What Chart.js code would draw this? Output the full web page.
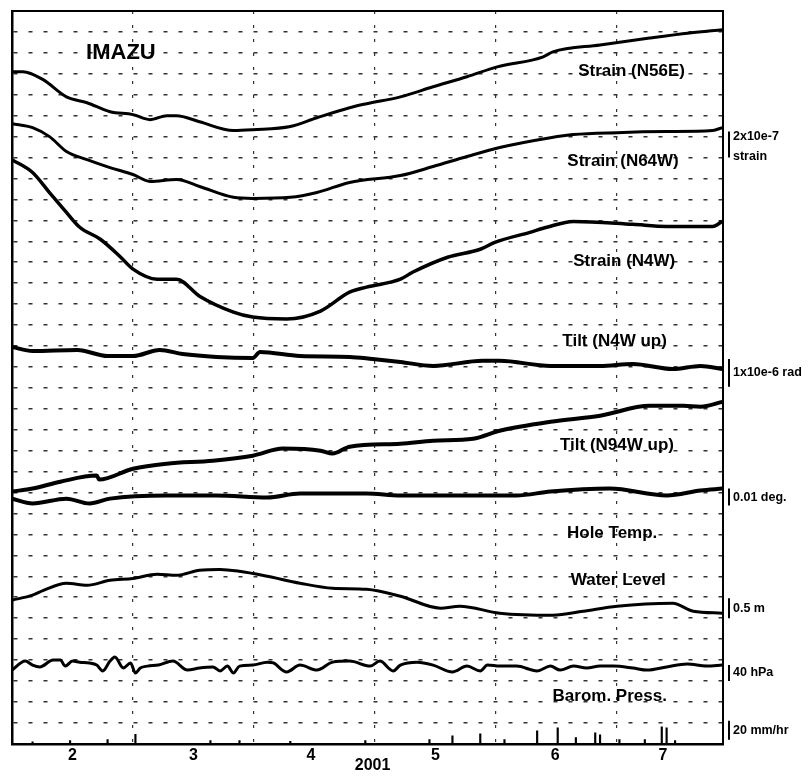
<!DOCTYPE html>
<html lang="en">
<head>
    <meta charset="UTF-8">
    <title>IMAZU</title>
    <script src="https://cdnjs.cloudflare.com/ajax/libs/Chart.js/4.4.1/chart.umd.min.js"></script>
    <style>
        body {
            margin: 0;
            background-color: #fff;
        }
        .wrap {
            width: 810px;
            height: 778px;
        }
    </style>
</head>
<body>
    <div class="wrap">
        <canvas id="chart" width="810" height="778"></canvas>
    </div>

    <script>
        // x in months of 2001 (2.0 = 1 Feb), y in grid divisions (0 = bottom, 35 = top)
        const X_MIN = 2.0;
        const X_MAX = 7.876;
        const Y_DIVS = 35;

        const monthLines = [3, 4, 5, 6, 7];
        const monthLabelPos = [2.5, 3.5, 4.47, 5.5, 6.49, 7.38];
        const monthLabels = ['2', '3', '4', '5', '6', '7'];

        // Strain (N56E)
        const n56eX = [2.00, 2.09, 2.26, 2.45, 2.62, 2.81, 3.00, 3.14, 3.28, 3.36, 3.55, 3.83, 3.99, 4.30, 4.52, 4.79, 4.93, 5.21, 5.48, 5.76, 6.01, 6.39, 6.47, 6.86, 7.27, 7.60, 7.87];
        const n56eY = [32.10, 32.10, 31.71, 30.90, 30.62, 30.19, 30.05, 29.81, 30.00, 30.00, 29.71, 29.29, 29.33, 29.48, 29.90, 30.38, 30.57, 30.90, 31.38, 31.86, 32.33, 32.81, 33.05, 33.38, 33.71, 33.95, 34.10];

        // Strain (N64W)
        const n64wX = [2.00, 2.17, 2.31, 2.45, 2.62, 2.81, 3.00, 3.14, 3.36, 3.55, 3.83, 3.99, 4.30, 4.52, 4.79, 5.21, 5.48, 5.76, 6.03, 6.45, 6.64, 7.00, 7.41, 7.79, 7.87];
        const n64wY = [29.62, 29.43, 29.00, 28.29, 27.90, 27.52, 27.19, 26.86, 26.95, 26.62, 26.10, 26.05, 26.10, 26.33, 26.81, 27.14, 27.57, 28.05, 28.48, 28.95, 29.10, 29.19, 29.24, 29.29, 29.43];

        // Strain (N4W)
        const n4wX = [2.00, 2.17, 2.31, 2.45, 2.56, 2.73, 2.89, 3.00, 3.20, 3.36, 3.55, 3.83, 3.99, 4.27, 4.55, 4.79, 4.93, 5.21, 5.31, 5.60, 5.87, 5.99, 6.28, 6.42, 6.64, 7.13, 7.41, 7.79, 7.87];
        const n4wY = [27.90, 27.29, 26.33, 25.38, 24.67, 24.10, 23.29, 22.67, 22.19, 22.19, 21.38, 20.62, 20.38, 20.29, 20.67, 21.57, 21.81, 22.19, 22.52, 23.24, 23.62, 23.95, 24.43, 24.67, 24.95, 24.81, 24.71, 24.71, 24.95];

        // Tilt (N4W up)
        const tiltAX = [2.00, 2.17, 2.54, 2.79, 3.00, 3.22, 3.41, 3.69, 3.99, 4.05, 4.38, 4.79, 4.98, 5.21, 5.48, 5.89, 6.03, 6.45, 6.86, 7.13, 7.46, 7.69, 7.87];
        const tiltAY = [18.95, 18.76, 18.81, 18.52, 18.52, 18.81, 18.62, 18.48, 18.43, 18.71, 18.52, 18.48, 18.38, 18.24, 18.05, 18.29, 18.29, 18.05, 18.05, 18.14, 17.90, 18.05, 17.90];

        // Tilt (N94W up)
        const tiltBX = [2.00, 2.17, 2.40, 2.70, 2.72, 3.00, 3.28, 3.66, 3.99, 4.24, 4.55, 4.65, 4.79, 5.21, 5.48, 5.81, 6.03, 6.45, 6.86, 7.27, 7.55, 7.69, 7.87];
        const tiltBY = [12.05, 12.19, 12.52, 12.81, 12.62, 13.14, 13.38, 13.52, 13.76, 14.10, 14.00, 13.86, 14.19, 14.33, 14.48, 14.57, 14.95, 15.38, 15.67, 16.14, 16.14, 16.10, 16.33];

        // Hole Temp.
        const tempX = [2.00, 2.17, 2.45, 2.64, 2.81, 3.28, 3.69, 4.11, 4.38, 4.93, 5.21, 5.89, 6.17, 6.45, 6.94, 7.41, 7.69, 7.87];
        const tempY = [11.71, 11.48, 11.71, 11.48, 11.71, 11.86, 11.86, 11.76, 11.95, 11.95, 11.86, 11.86, 11.86, 12.05, 12.19, 11.86, 12.10, 12.19];

        // Water Level
        const waterX = [2.00, 2.17, 2.26, 2.45, 2.62, 2.81, 3.00, 3.20, 3.36, 3.55, 3.72, 3.88, 4.11, 4.38, 4.65, 4.93, 5.21, 5.54, 5.70, 6.03, 6.47, 6.72, 7.00, 7.46, 7.63, 7.87];
        const waterY = [6.86, 7.10, 7.33, 7.67, 7.57, 7.81, 7.90, 8.10, 8.05, 8.29, 8.33, 8.24, 8.00, 7.67, 7.43, 7.38, 7.05, 6.48, 6.57, 6.24, 6.14, 6.33, 6.57, 6.71, 6.33, 6.24];

        // Barom. Press.
        const baroX = [2.00, 2.11, 2.17, 2.23, 2.34, 2.40, 2.44, 2.50, 2.56, 2.64, 2.70, 2.75, 2.81, 2.85, 2.92, 2.98, 3.02, 3.06, 3.12, 3.21, 3.33, 3.45, 3.55, 3.66, 3.72, 3.78, 3.83, 3.88, 3.99, 4.11,
                       4.16, 4.27, 4.38, 4.52, 4.65, 4.79, 4.96, 5.04, 5.15, 5.21, 5.35, 5.48, 5.64, 5.76, 5.87, 5.93, 6.03, 6.17, 6.34, 6.45, 6.53, 6.64, 6.75, 6.86, 6.97, 7.13, 7.25, 7.41, 7.58, 7.74, 7.87];
        const baroY = [3.52, 3.95, 3.76, 3.67, 4.00, 4.00, 3.71, 3.95, 3.90, 3.86, 3.76, 3.48, 3.95, 4.14, 3.62, 3.86, 3.38, 3.62, 3.71, 3.76, 3.95, 3.52, 3.62, 3.67, 3.48, 3.71, 3.38, 3.71, 3.76, 3.90,
                       3.86, 3.43, 3.76, 3.52, 3.90, 3.95, 3.71, 3.95, 3.48, 3.76, 3.90, 3.76, 3.43, 3.71, 3.48, 3.76, 3.71, 3.71, 3.48, 3.71, 3.52, 3.71, 3.62, 3.71, 3.71, 3.62, 3.52, 3.67, 3.81, 3.71, 3.76];

        // Rainfall spikes
        const rainX = [2.17, 2.48, 2.79, 3.02, 3.64, 3.88, 4.30, 4.92, 5.45, 5.64, 5.87, 6.07, 6.34, 6.51, 6.66, 6.82, 6.86, 7.02, 7.23, 7.37, 7.41, 7.48];
        const rainY = [0.10, 0.15, 0.20, 0.45, 0.15, 0.15, 0.12, 0.15, 0.20, 0.38, 0.48, 0.20, 0.62, 0.76, 0.30, 0.52, 0.43, 0.20, 0.20, 0.81, 0.76, 0.15];

        // Trace names (placed next to each trace)
        const traceNames = ['Strain (N56E)', 'Strain (N64W)', 'Strain (N4W)', 'Tilt (N4W up)', 'Tilt (N94W up)', 'Hole Temp.', 'Water Level', 'Barom. Press.'];
        const traceNameX = [7.12, 7.05, 7.06, 6.98, 7.00, 6.96, 7.01, 6.94];
        const traceNameY = [32.1, 27.8, 23.05, 19.24, 14.24, 10.05, 7.81, 2.29];

        // Scale bars on the right (from / to in divisions)
        const scaleLabels = [['2x10e-7', 'strain'], ['1x10e-6 rad'], ['0.01 deg.'], ['0.5 m'], ['40 hPa'], ['20 mm/hr']];
        const scaleFrom = [28.0, 17.05, 11.38, 6.0, 3.0, 0.19];
        const scaleTo = [29.24, 18.38, 12.19, 6.95, 3.76, 1.10];

        function pts(xs, ys) {
            return xs.map((x, i) => ({ x: x, y: ys[i] }));
        }

        function trace(xs, ys, width) {
            return {
                type: 'line',
                data: pts(xs, ys),
                borderColor: '#000',
                borderWidth: width,
                pointRadius: 0,
                cubicInterpolationMode: 'monotone',
                fill: false
            };
        }

        const FONT = '"Liberation Sans", Arial, sans-serif';

        // text, frame and scale bars
        const annotations = {
            id: 'annotations',
            afterDatasetsDraw(chart) {
                const ctx = chart.ctx;
                const xs = chart.scales.x;
                const ys = chart.scales.y;
                const area = chart.chartArea;
                ctx.save();

                // frame top / right
                ctx.strokeStyle = '#000';
                ctx.lineWidth = 2;
                ctx.beginPath();
                ctx.moveTo(area.left, area.top);
                ctx.lineTo(area.right, area.top);
                ctx.lineTo(area.right, area.bottom);
                ctx.stroke();

                ctx.fillStyle = '#000';
                ctx.textBaseline = 'middle';
                ctx.textAlign = 'center';

                ctx.font = 'bold 22px ' + FONT;
                ctx.fillText('IMAZU', xs.getPixelForValue(2.9), ys.getPixelForValue(33.0));

                ctx.font = 'bold 17px ' + FONT;
                traceNames.forEach((name, i) => {
                    ctx.fillText(name, xs.getPixelForValue(traceNameX[i]), ys.getPixelForValue(traceNameY[i]));
                });

                ctx.font = 'bold 16px ' + FONT;
                ctx.fillText('2001', xs.getPixelForValue(4.98), area.bottom + 22);

                // scale bars
                ctx.textAlign = 'left';
                ctx.font = 'bold 12.5px ' + FONT;
                ctx.lineWidth = 2;
                scaleLabels.forEach((lines, i) => {
                    const y1 = ys.getPixelForValue(scaleFrom[i]);
                    const y2 = ys.getPixelForValue(scaleTo[i]);
                    const bx = area.right + 6;
                    ctx.beginPath();
                    ctx.moveTo(bx, y1);
                    ctx.lineTo(bx, y2);
                    ctx.stroke();
                    if (lines.length === 2) {
                        ctx.fillText(lines[0], bx + 4, y2 + 5);
                        ctx.fillText(lines[1], bx + 4, y1 - 1);
                    } else {
                        ctx.fillText(lines[0], bx + 4, (y1 + y2) / 2);
                    }
                });
                ctx.restore();
            }
        };

        const ctx = document.getElementById('chart').getContext('2d');

        new Chart(ctx, {
            type: 'line',
            data: {
                datasets: [
                    trace(n56eX, n56eY, 3),
                    trace(n64wX, n64wY, 3),
                    trace(n4wX, n4wY, 3.5),
                    trace(tiltAX, tiltAY, 4),
                    trace(tiltBX, tiltBY, 4),
                    trace(tempX, tempY, 4),
                    trace(waterX, waterY, 3),
                    trace(baroX, baroY, 3),
                    {
                        type: 'bar',
                        data: pts(rainX, rainY),
                        backgroundColor: '#000',
                        barThickness: 1.5
                    }
                ]
            },
            options: {
                responsive: false,
                animation: false,
                events: [],
                layout: {
                    padding: { left: 12, top: 11, right: 87, bottom: 11 }
                },
                plugins: {
                    legend: { display: false },
                    tooltip: { enabled: false }
                },
                scales: {
                    x: {
                        type: 'linear',
                        position: 'bottom',
                        min: X_MIN,
                        max: X_MAX,
                        offset: false,
                        afterBuildTicks: (axis) => {
                            axis.ticks = monthLines.map(v => ({ value: v }));
                        },
                        ticks: { display: false },
                        grid: { color: '#333', lineWidth: 1.2, drawTicks: false, offset: false },
                        border: { display: false, dash: [3, 11] }
                    },
                    xl: {
                        type: 'linear',
                        position: 'bottom',
                        min: X_MIN,
                        max: X_MAX,
                        offset: false,
                        afterBuildTicks: (axis) => {
                            axis.ticks = monthLabelPos.map(v => ({ value: v }));
                        },
                        ticks: {
                            padding: 2,
                            color: '#000',
                            maxRotation: 0,
                            autoSkip: false,
                            font: { family: FONT, size: 16, weight: 'bold' },
                            callback: (v, i) => monthLabels[i]
                        },
                        grid: { display: false, drawTicks: false },
                        border: { display: true, color: '#000', width: 2.5 }
                    },
                    y: {
                        type: 'linear',
                        min: 0,
                        max: Y_DIVS,
                        afterBuildTicks: (axis) => {
                            const t = [];
                            for (let i = 1; i < Y_DIVS; i++) t.push({ value: i });
                            axis.ticks = t;
                        },
                        ticks: { display: false },
                        grid: { color: '#333', lineWidth: 1.5, drawTicks: false },
                        border: { display: true, color: '#000', width: 2.5, dash: [4, 11] }
                    }
                }
            },
            plugins: [annotations]
        });
    </script>
</body>
</html>
